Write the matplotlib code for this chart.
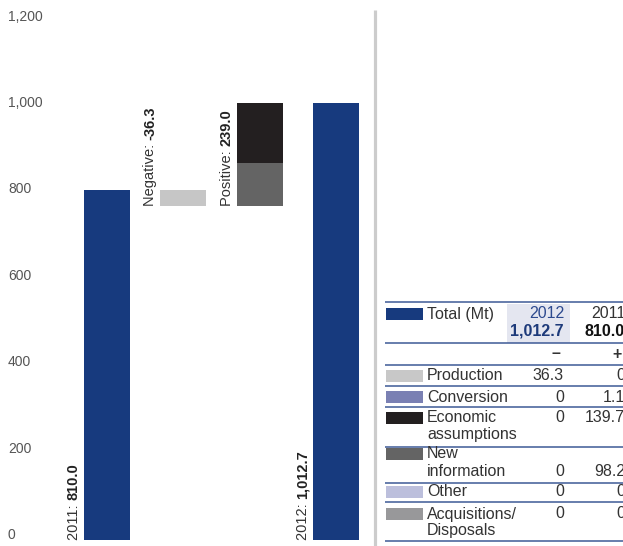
import matplotlib
matplotlib.use("Agg")
import matplotlib.pyplot as plt
from matplotlib.patches import Rectangle

plt.rcParams['font.family'] = ['Liberation Sans', 'DejaVu Sans']

# ---- data -------------------------------------------------------------
total_2011 = 810.0
total_2012 = 1012.7
negative_total = -36.3
positive_total = 239.0

# stacked positive movement (bottom to top)
positive_parts = [98.2, 139.7, 1.1]           # new information, economic assumptions, conversion
positive_colors = ['#646464', '#231f20', '#7a80b3']

y_ticks = [0, 200, 400, 600, 800, 1000, 1200]
y_tick_labels = ['0', '200', '400', '600', '800', '1,000', '1,200']

table_names = ['Production', 'Conversion', 'Economic\nassumptions',
               'New\ninformation', 'Other', 'Acquisitions/\nDisposals']
table_minus = ['36.3', '0', '0', '0', '0', '0']
table_plus = ['0', '1.1', '139.7', '98.2', '0', '0']
table_colors = ['#c8c8c8', '#7a80b3', '#231f20', '#646464', '#bcbfdc', '#98989a']

NAVY = '#173a7e'
W, H = 623, 546

fig = plt.figure(figsize=(W / 100, H / 100), dpi=100)

# ---- waterfall axes ---------------------------------------------------
px_per_unit = 0.432
bottom_px, top_px = 540, 540 - 1200 * px_per_unit
ax = fig.add_axes([0, (H - bottom_px) / H, 375 / W, (bottom_px - top_px) / H])
step = 76.3
ax.set_xlim(-107 / step, (375 - 107) / step)
ax.set_ylim(0, 1200)
ax.axis('off')

bw = 46 / step
ax.bar(0, total_2011, width=bw, color=NAVY)
after_neg = total_2011 + negative_total
ax.bar(1, -negative_total, bottom=after_neg, width=bw, color='#c6c6c6')
base = after_neg
for v, c in zip(positive_parts, positive_colors):
    ax.bar(2, v, bottom=base, width=bw, color=c)
    base += v
ax.bar(3, total_2012, width=bw, color=NAVY)

for v, lab in zip(y_ticks, y_tick_labels):
    ax.annotate(lab, xy=(0, v), xycoords=('axes fraction', 'data'),
                xytext=(8, 5), textcoords='offset pixels',
                ha='left', va='center', fontsize=10, color='#555555')

lab_dx = -33 / step
def vlabel(x, y, light, bold):
    t = ax.text(x + lab_dx, y, light, rotation=90, ha='center', va='bottom',
                fontsize=10.5, color='#333333')
    ax.annotate(bold, xy=(0.5, 1), xycoords=t, ha='center', va='bottom',
                rotation=90, fontsize=10.5, fontweight='bold', color='#222222')

vlabel(0, 0, '2011: ', f'{total_2011:,.1f}')
vlabel(1, after_neg, 'Negative: ', f'{negative_total:.1f}')
vlabel(2, after_neg, 'Positive: ', f'{positive_total:.1f}')
vlabel(3, 0, '2012: ', f'{total_2012:,.1f}')

# ---- overlay in pixel coordinates: divider and table -----------------
ov = fig.add_axes([0, 0, 1, 1])
ov.set_xlim(0, W)
ov.set_ylim(H, 0)
ov.axis('off')
ov.patch.set_alpha(0)

ov.plot([375, 375], [10, H], color='#cccccc', lw=2.3, solid_capstyle='butt')

LINE = '#3d5a96'
TXT = '#333333'
FS = 11.5
x_sw, sw_w, sw_h = 386, 37, 12
x_name = 427
x_c1, x_c2 = 564, 625

for y in [302, 343, 365, 386, 407, 447, 483, 502, 541]:
    ov.plot([385, W], [y, y], color=LINE, lw=1.1, solid_capstyle='butt')

# header
ov.add_patch(Rectangle((507, 303.5), 63, 39, color='#e4e6f0', lw=0))
ov.add_patch(Rectangle((x_sw, 308), sw_w, sw_h, color=NAVY, lw=0))
ov.text(x_name, 314, 'Total (Mt)', ha='left', va='center', fontsize=FS, color=TXT)
ov.text(x_c1, 314, '2012', ha='right', va='center', fontsize=FS, color='#2d4a8f')
ov.text(x_c1, 331, f'{total_2012:,.1f}', ha='right', va='center', fontsize=FS,
        fontweight='bold', color='#1d3a7a')
ov.text(x_c2, 314, '2011', ha='right', va='center', fontsize=FS, color=TXT)
ov.text(x_c2, 331, f'{total_2011:,.1f}', ha='right', va='center', fontsize=FS,
        fontweight='bold', color='#111111')
ov.text(x_c1 - 4, 354, '–', ha='right', va='center', fontsize=FS, fontweight='bold', color=TXT)
ov.text(x_c2 - 3, 354, '+', ha='right', va='center', fontsize=FS, fontweight='bold', color=TXT)

row_y = [376, 397, 418, 454, 492, 514]
value_line = [0, 0, 0, 1, 0, 0]
line_gap = 17
for name, mn, pl, col, y0, vl in zip(table_names, table_minus, table_plus,
                                     table_colors, row_y, value_line):
    ov.add_patch(Rectangle((x_sw, y0 - 6), sw_w, sw_h, color=col, lw=0))
    for k, part in enumerate(name.split('\n')):
        ov.text(x_name, y0 + k * line_gap, part, ha='left', va='center',
                fontsize=FS, color=TXT)
    yv = y0 + vl * line_gap
    ov.text(x_c1, yv, mn, ha='right', va='center', fontsize=FS, color=TXT)
    ov.text(x_c2, yv, pl, ha='right', va='center', fontsize=FS, color=TXT)

fig.savefig('out.png', dpi=100)
